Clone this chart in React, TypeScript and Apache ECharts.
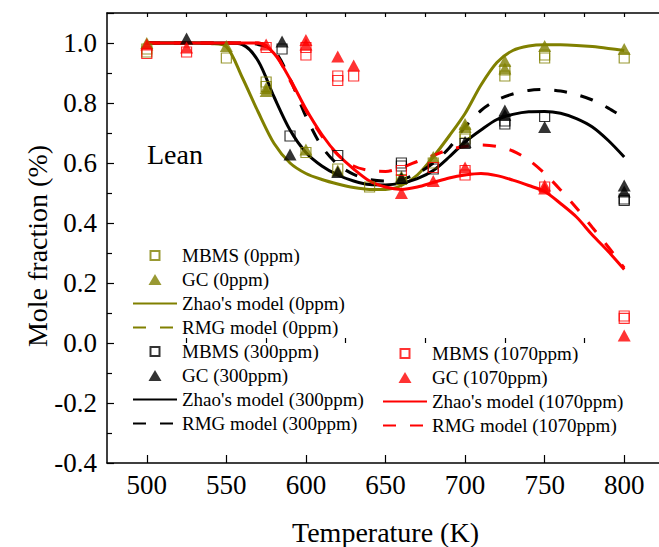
import React, { useEffect, useRef } from "react";
import * as echarts from "echarts";

const OLIVE = "#808000";
const RED = "#FF0000";
const BLACK = "#000000";
const FONT = "'Liberation Serif', 'Times New Roman', serif";

// Model curves (temperature grid, K)
const modelT = [500, 510, 520, 530, 540, 550, 560, 570, 580, 590, 600, 610, 620, 630, 640, 650, 660, 670, 680, 690, 700, 710, 720, 730, 740, 750, 760, 770, 780, 790, 800];
const zhao0 = [1.0, 1.0, 1.0, 1.0, 0.998, 0.988, 0.885, 0.77, 0.665, 0.6, 0.565, 0.545, 0.53, 0.518, 0.512, 0.512, 0.525, 0.56, 0.62, 0.69, 0.765, 0.86, 0.935, 0.975, 0.99, 0.994, 0.994, 0.992, 0.988, 0.982, 0.975];
const rmg0: number[] = [];
const zhao300 = [1.0, 1.0, 1.0, 1.0, 1.0, 1.0, 0.995, 0.94, 0.82, 0.71, 0.635, 0.59, 0.56, 0.54, 0.528, 0.527, 0.533, 0.548, 0.575, 0.62, 0.67, 0.71, 0.745, 0.762, 0.771, 0.772, 0.766, 0.748, 0.72, 0.675, 0.62];
const rmg300 = [1.0, 1.0, 1.0, 1.0, 1.0, 1.0, 1.0, 0.995, 0.975, 0.88, 0.755, 0.655, 0.595, 0.562, 0.545, 0.54, 0.545, 0.565, 0.6, 0.65, 0.72, 0.775, 0.81, 0.83, 0.842, 0.845, 0.84, 0.828, 0.81, 0.783, 0.75];
const zhao1070 = [1.0, 1.0, 1.0, 1.0, 1.0, 1.0, 1.0, 1.0, 0.965, 0.88, 0.78, 0.695, 0.628, 0.58, 0.54, 0.52, 0.512, 0.52, 0.535, 0.55, 0.56, 0.565, 0.558, 0.543, 0.525, 0.505, 0.465, 0.42, 0.36, 0.305, 0.245];
const rmg1070 = [1.0, 1.0, 1.0, 1.0, 1.0, 1.0, 1.0, 1.0, 0.97, 0.875, 0.775, 0.69, 0.628, 0.59, 0.575, 0.572, 0.585, 0.605, 0.625, 0.645, 0.655, 0.66, 0.655, 0.64, 0.61, 0.565, 0.51, 0.45, 0.385, 0.32, 0.25];

// Measurements [T (K), mole fraction]
const mbms0 = [[500, 0.97], [500, 0.98], [550, 0.95], [575, 0.87], [575, 0.855], [600, 0.635], [620, 0.58], [640, 0.52], [660, 0.545], [680, 0.6], [700, 0.7], [700, 0.68], [725, 0.89], [725, 0.91], [750, 0.95], [750, 0.96], [800, 0.95]];
const gc0 = [[500, 1.0], [550, 0.99], [575, 0.84], [575, 0.85], [600, 0.645], [620, 0.575], [660, 0.555], [680, 0.62], [700, 0.72], [700, 0.73], [725, 0.915], [725, 0.94], [750, 0.99], [800, 0.98]];
const mbms300 = [[585, 0.98], [590, 0.69], [620, 0.625], [660, 0.6], [660, 0.59], [680, 0.58], [700, 0.665], [725, 0.74], [725, 0.73], [750, 0.755], [800, 0.48], [800, 0.475]];
const gc300 = [[525, 1.015], [585, 1.005], [590, 0.628], [620, 0.57], [660, 0.55], [700, 0.67], [725, 0.775], [725, 0.76], [750, 0.72], [800, 0.525], [800, 0.505]];
const mbms1070 = [[500, 0.965], [525, 0.97], [575, 0.985], [600, 0.985], [600, 0.96], [620, 0.89], [620, 0.875], [630, 0.89], [660, 0.575], [680, 0.585], [700, 0.56], [700, 0.575], [750, 0.52], [800, 0.09], [800, 0.082]];
const gc1070 = [[500, 0.995], [525, 0.985], [575, 0.995], [600, 1.01], [600, 0.995], [620, 0.955], [630, 0.925], [660, 0.5], [680, 0.54], [700, 0.585], [750, 0.525], [750, 0.515], [800, 0.025]];

// Axis ticks
const xMajor = [500, 550, 600, 650, 700, 750, 800];
const xMinor = [525, 575, 625, 675, 725, 775];
const xTop = [500, 525, 550, 575, 600, 625, 650, 675, 700, 725, 750, 775, 800];

const legendLeft = ["MBMS (0ppm)", "GC (0ppm)", "Zhao's model (0ppm)", "RMG model (0ppm)", "MBMS (300ppm)", "GC (300ppm)", "Zhao's model (300ppm)", "RMG model (300ppm)"];
const legendRight = ["MBMS (1070ppm)", "GC (1070ppm)", "Zhao's model (1070ppm)", "RMG model (1070ppm)"];

// Legend icons (bounding box 13 x 11 so they are drawn at pixel size)
const SQUARE_ICON = "path://M0,0M2,1L11,1L11,10L2,10ZM13,11";
const TRI_ICON = "path://M6.5,0L13,11L0,11Z";

const pairs = (vals: number[]) => vals.map((v, i) => [modelT[i], v]);

const lineSeries = (name: string, vals: number[], color: string, dashed: boolean) => ({
  name,
  type: "line",
  data: pairs(vals),
  symbol: "none",
  smooth: 0.3,
  z: 2,
  lineStyle: { color, width: 3, type: dashed ? [13, 14] : "solid" },
  itemStyle: { color },
});

const squareSeries = (name: string, data: number[][], color: string) => ({
  name,
  type: "scatter",
  data,
  symbol: "rect",
  symbolSize: 10,
  z: 3,
  itemStyle: { color: "rgba(0,0,0,0)", borderColor: color, borderWidth: 1.2 },
});

const triSeries = (name: string, data: number[][], color: string) => ({
  name,
  type: "scatter",
  data,
  symbol: "triangle",
  symbolSize: [13, 12],
  z: 3,
  itemStyle: { color },
});

const legendItem = (name: string) => {
  if (name.startsWith("MBMS")) return { name, icon: SQUARE_ICON };
  if (name.startsWith("GC")) return { name, icon: TRI_ICON };
  return { name, itemStyle: { color: "rgba(0,0,0,0)", borderWidth: 0, opacity: 0 } };
};

export default function App() {
  const ref = useRef<HTMLDivElement>(null);
  useEffect(() => {
    if (!ref.current) return;
    const chart = echarts.init(ref.current, null, { renderer: "svg" });
    const legendText = { fontFamily: FONT, fontSize: 19, color: "#000" };
    chart.setOption({
      animation: false,
      backgroundColor: "#fff",
      grid: { left: 107, right: -5, top: 13, bottom: 84, containLabel: false, outerBoundsMode: "none" },
      xAxis: [
        {
          type: "value",
          position: "bottom",
          min: 475,
          max: 825,
          name: "Temperature (K)",
          nameLocation: "middle",
          nameGap: 55,
          nameTextStyle: { fontFamily: FONT, fontSize: 28, color: "#000" },
          axisLine: { show: true, onZero: false, lineStyle: { color: "#000", width: 1.5 } },
          axisTick: { show: true, inside: true, length: 8, customValues: xMajor, lineStyle: { color: "#000", width: 1.2 } },
          axisLabel: { show: true, customValues: xMajor, margin: 8, fontFamily: FONT, fontSize: 27, color: "#000" },
          splitLine: { show: false },
        },
        {
          type: "value",
          position: "bottom",
          min: 475,
          max: 825,
          axisLine: { show: false },
          axisTick: { show: true, inside: true, length: 5, customValues: xMinor, lineStyle: { color: "#000", width: 1.2 } },
          axisLabel: { show: false },
          splitLine: { show: false },
        },
        {
          type: "value",
          position: "top",
          min: 475,
          max: 825,
          axisLine: { show: true, onZero: false, lineStyle: { color: "#000", width: 1.5 } },
          axisTick: { show: true, inside: true, length: 4, customValues: xTop, lineStyle: { color: "#000", width: 1.2 } },
          axisLabel: { show: false },
          splitLine: { show: false },
        },
      ],
      yAxis: {
        type: "value",
        min: -0.4,
        max: 1.1,
        interval: 0.2,
        axisLine: { show: true, onZero: false, lineStyle: { color: "#000", width: 1.5 } },
        axisTick: { show: true, inside: true, length: 7, lineStyle: { color: "#000", width: 1.2 } },
        minorTick: { show: true, splitNumber: 2, length: 5, lineStyle: { color: "#000", width: 1.2 } },
        axisLabel: {
          margin: 10,
          fontFamily: FONT,
          fontSize: 27,
          color: "#000",
          showMaxLabel: false,
          formatter: (v: number) => (Math.abs(v - 1.1) < 1e-6 ? "" : v.toFixed(1)),
        },
        splitLine: { show: false },
      },
      legend: [
        {
          orient: "vertical",
          left: 127,
          top: 241,
          itemWidth: 44,
          itemHeight: 11,
          itemGap: 5,
          symbolKeepAspect: true,
          selectedMode: false,
          textStyle: legendText,
          data: legendLeft.map(legendItem),
        },
        {
          orient: "vertical",
          left: 377,
          top: 339,
          itemWidth: 44,
          itemHeight: 11,
          itemGap: 5,
          symbolKeepAspect: true,
          selectedMode: false,
          textStyle: legendText,
          data: legendRight.map(legendItem),
        },
      ],
      graphic: [
        {
          type: "text",
          x: 147,
          y: 154,
          style: { text: "Lean", fontFamily: FONT, fontSize: 28, fill: "#000", verticalAlign: "middle" },
        },
        {
          type: "text",
          x: 37,
          y: 246,
          rotation: Math.PI / 2,
          style: { text: "Mole fraction (%)", fontFamily: FONT, fontSize: 28, fill: "#000", align: "center", verticalAlign: "middle" },
        },
      ],
      series: [
        lineSeries("Zhao's model (0ppm)", zhao0, OLIVE, false),
        lineSeries("RMG model (0ppm)", rmg0, OLIVE, true),
        lineSeries("Zhao's model (300ppm)", zhao300, BLACK, false),
        lineSeries("RMG model (300ppm)", rmg300, BLACK, true),
        lineSeries("Zhao's model (1070ppm)", zhao1070, RED, false),
        lineSeries("RMG model (1070ppm)", rmg1070, RED, true),
        squareSeries("MBMS (0ppm)", mbms0, OLIVE),
        triSeries("GC (0ppm)", gc0, OLIVE),
        squareSeries("MBMS (300ppm)", mbms300, BLACK),
        triSeries("GC (300ppm)", gc300, BLACK),
        squareSeries("MBMS (1070ppm)", mbms1070, RED),
        triSeries("GC (1070ppm)", gc1070, RED),
      ],
    });
    return () => chart.dispose();
  }, []);
  return <div ref={ref} style={{ position: "absolute", left: 0, top: 0, width: 659, height: 547 }} />;
}
